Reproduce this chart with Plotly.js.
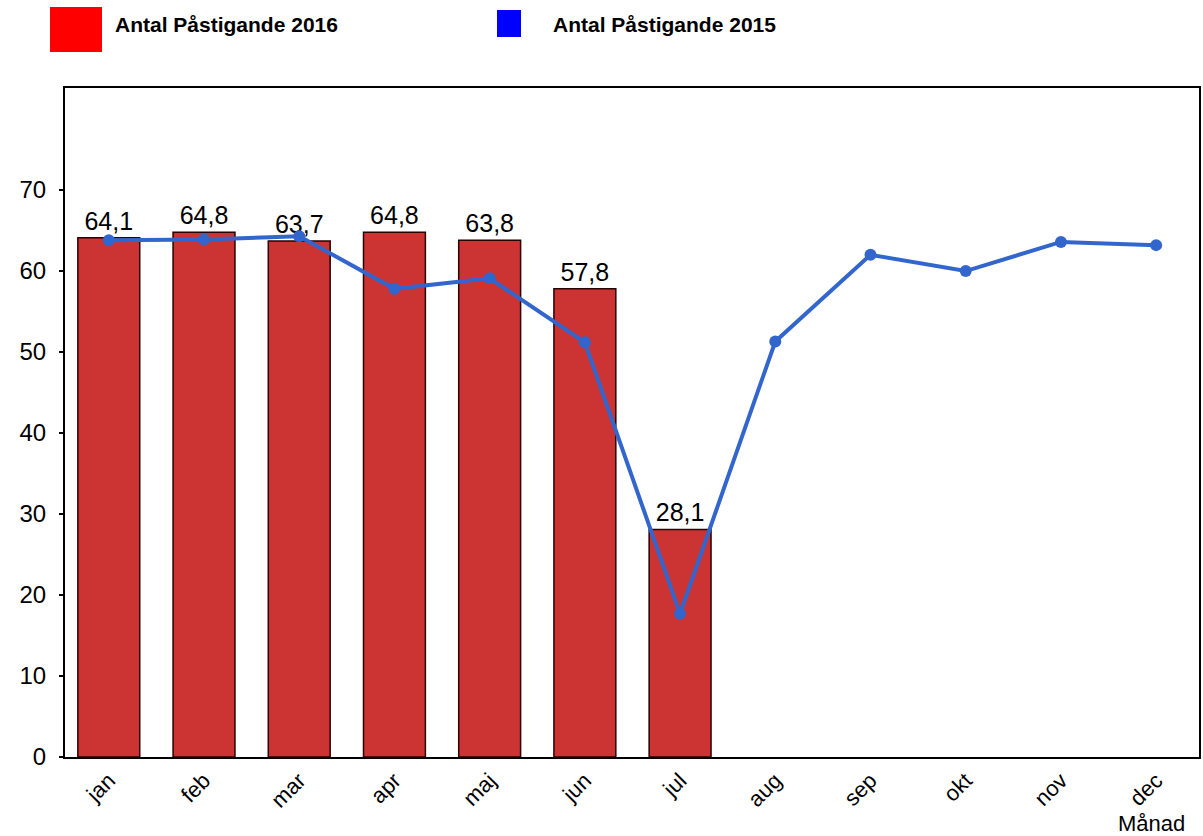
<!DOCTYPE html>
<html><head><meta charset="utf-8">
<script src="https://cdn.plot.ly/plotly-3.0.1.min.js"></script>
<style>html,body{margin:0;padding:0;background:#fff}#c{width:1203px;height:836px}</style>
</head><body><div id="c"></div>
<script>
const months = ["jan","feb","mar","apr","maj","jun","jul","aug","sep","okt","nov","dec"];
const months2016 = ["jan","feb","mar","apr","maj","jun","jul"];
const values2016 = [64.1, 64.8, 63.7, 64.8, 63.8, 57.8, 28.1];
const values2015 = [63.8, 63.9, 64.3, 57.8, 59.1, 51.2, 17.7, 51.3, 62.0, 60.0, 63.6, 63.2];
const yTicks = [0, 10, 20, 30, 40, 50, 60, 70];
const legendLabels = ["Antal Påstigande 2016", "Antal Påstigande 2015"];
const axisTitle = "Månad";

const FONT = "Arial, 'Liberation Sans', sans-serif";
const L = 65, R = 1199, T = 88, B = 757;
const pw = R - L, ph = B - T;
function px(x){ return (x - L) / pw; }
function py(y){ return (B - y) / ph; }

const traces = [
  {
    type: "bar", x: months2016, y: values2016, name: legendLabels[0],
    marker: {color: "#CC3333", line: {color: "#2a0000", width: 1.5}},
    width: 0.65,
    texttemplate: "%{y:.1f}", textposition: "outside", cliponaxis: false,
    constraintext: "none",
    textfont: {family: FONT, size: 25, color: "#000"},
    hoverinfo: "skip"
  },
  {
    type: "scatter", mode: "lines+markers", x: months, y: values2015, name: legendLabels[1],
    line: {color: "#3366CC", width: 4},
    marker: {color: "#3366CC", size: 12},
    hoverinfo: "skip"
  }
];

const layout = {
  width: 1203, height: 836,
  margin: {l: L, r: 1203 - R, t: T, b: 836 - B, pad: 0},
  paper_bgcolor: "#fff", plot_bgcolor: "#fff",
  separators: ", ",
  showlegend: false,
  font: {family: FONT, color: "#000"},
  xaxis: {
    type: "category", categoryarray: months, categoryorder: "array",
    range: [-0.46, 11.45],
    showline: true, linecolor: "#000", linewidth: 2, mirror: true,
    showgrid: false, ticks: "", tickangle: -45,
    tickfont: {family: FONT, size: 22, color: "#000"}
  },
  yaxis: {
    range: [0, 82.6], tickvals: yTicks,
    showline: true, linecolor: "#000", linewidth: 2, mirror: true,
    showgrid: false, zeroline: false, ticks: "outside", ticklen: 4, tickcolor: "#000", tickwidth: 1.5,
    ticklabelstandoff: 8,
    tickfont: {family: FONT, size: 24, color: "#000"}
  },
  shapes: [
    {type: "rect", xref: "paper", yref: "paper", x0: px(50), x1: px(102), y0: py(52), y1: py(7),
     fillcolor: "#FF0000", line: {width: 0}},
    {type: "rect", xref: "paper", yref: "paper", x0: px(497), x1: px(521), y0: py(37), y1: py(10),
     fillcolor: "#0000FF", line: {width: 0}}
  ],
  annotations: [
    {xref: "paper", yref: "paper", x: 1, y: 0, xanchor: "right", yanchor: "middle", yshift: -66, xshift: -12,
     text: axisTitle, showarrow: false, font: {family: FONT, size: 22, color: "#000"}},
    {xref: "paper", yref: "paper", x: px(113), y: py(25), xanchor: "left", yanchor: "middle",
     text: "<b>" + legendLabels[0] + "</b>", showarrow: false, font: {family: FONT, size: 21, color: "#000"}},
    {xref: "paper", yref: "paper", x: px(551), y: py(25), xanchor: "left", yanchor: "middle",
     text: "<b>" + legendLabels[1] + "</b>", showarrow: false, font: {family: FONT, size: 21, color: "#000"}}
  ]
};

Plotly.newPlot("c", traces, layout, {staticPlot: true});
</script>
</body></html>
